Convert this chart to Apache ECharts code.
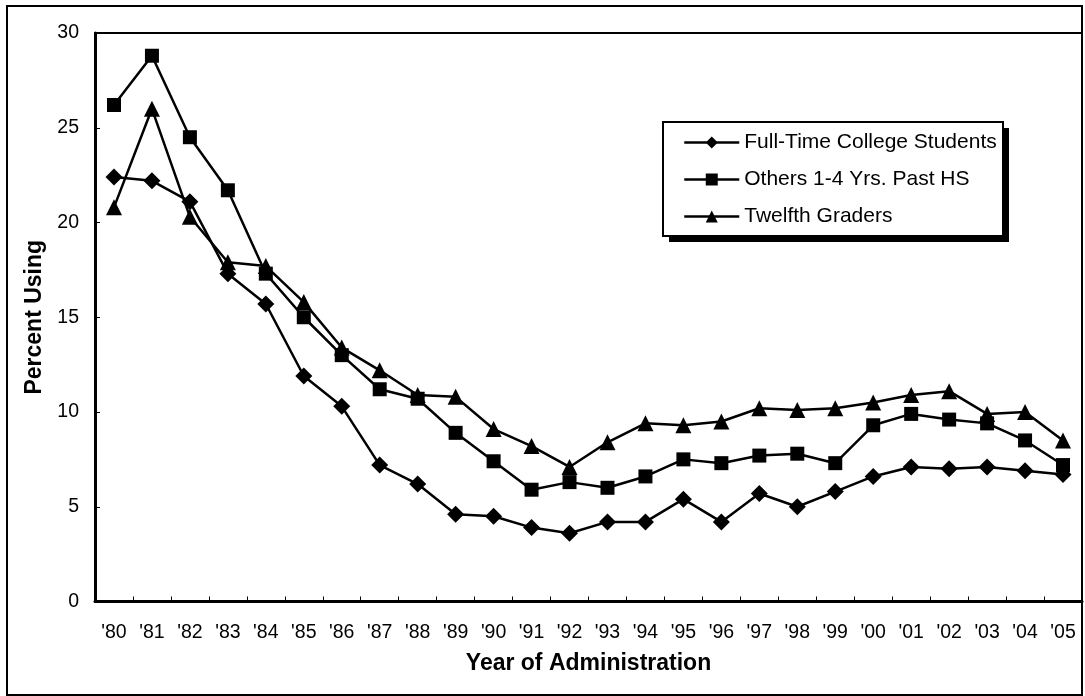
<!DOCTYPE html>
<html>
<head>
<meta charset="utf-8">
<script src="https://cdn.jsdelivr.net/npm/echarts@6/dist/echarts.min.js"></script>
<style>
html,body{margin:0;padding:0;background:#fff;}
#chart{width:1085px;height:696px;}
</style>
</head>
<body>
<div id="chart"></div>
<script>
var years = ["'80","'81","'82","'83","'84","'85","'86","'87","'88","'89","'90","'91","'92","'93","'94","'95","'96","'97","'98","'99","'00","'01","'02","'03","'04","'05"];
var collegeStudents = [22.4,22.2,21.1,17.3,15.7,11.9,10.3,7.2,6.2,4.6,4.5,3.9,3.6,4.2,4.2,5.4,4.2,5.7,5.0,5.8,6.6,7.1,7.0,7.1,6.9,6.7];
var othersPastHS = [26.2,28.8,24.5,21.7,17.3,15.0,13.0,11.2,10.7,8.9,7.4,5.9,6.3,6.0,6.6,7.5,7.3,7.7,7.8,7.3,9.3,9.9,9.6,9.4,8.5,7.2];
var twelfthGraders = [20.8,26.0,20.3,17.9,17.7,15.8,13.4,12.2,10.9,10.8,9.1,8.2,7.1,8.4,9.4,9.3,9.5,10.2,10.1,10.2,10.5,10.9,11.1,9.9,10.0,8.5];
var yTicks = [0,5,10,15,20,25,30];

var FONT = '"Liberation Sans", Arial, Helvetica, sans-serif';
var chart = echarts.init(document.getElementById('chart'));

function mkSeries(name, data, symbol, size) {
  return {
    name: name,
    type: 'line',
    data: data,
    symbol: symbol,
    symbolSize: size,
    showSymbol: true,
    lineStyle: {color: '#000', width: 2.5},
    itemStyle: {color: '#000', borderColor: '#000', borderWidth: 0},
    emphasis: {disabled: true},
    z: 3
  };
}

chart.setOption({
  animation: false,
  backgroundColor: '#fff',
  textStyle: {fontFamily: FONT, color: '#000'},
  grid: {
    left: 95, right: 3, top: 33, bottom: 94.5,
    show: true, borderColor: '#000', borderWidth: 2, backgroundColor: 'transparent'
  },
  legend: {
    orient: 'vertical',
    left: 663, top: 122,
    padding: [10, 12, 12, 20],
    itemWidth: 55, itemHeight: 15, itemGap: 16,
    backgroundColor: 'transparent',
    borderWidth: 0,
    z: 10,
    lineStyle: {width: 2.5, color: '#000'},
    textStyle: {fontFamily: FONT, fontSize: 21, color: '#000', lineHeight: 20},
    data: ['Full-Time College Students', 'Others 1-4 Yrs. Past HS', 'Twelfth Graders']
  },
  xAxis: {
    type: 'category',
    data: years,
    boundaryGap: true,
    name: 'Year of Administration',
    nameLocation: 'middle',
    nameGap: 51,
    nameTextStyle: {fontFamily: FONT, fontSize: 23, fontWeight: 'bold', color: '#000'},
    axisLine: {lineStyle: {color: '#000', width: 3}},
    axisTick: {show: true, inside: true, length: 5, interval: 0, lineStyle: {color: '#000', width: 1}},
    axisLabel: {interval: 0, margin: 21, fontFamily: FONT, fontSize: 19.5, color: '#000'},
    splitLine: {show: false}
  },
  yAxis: {
    type: 'value',
    min: 0, max: 30, interval: 5,
    name: 'Percent Using',
    nameLocation: 'middle',
    nameGap: 40,
    nameTextStyle: {fontFamily: FONT, fontSize: 23, fontWeight: 'bold', color: '#000'},
    axisLine: {show: true, lineStyle: {color: '#000', width: 3}},
    axisTick: {show: true, inside: true, length: 5, lineStyle: {color: '#000', width: 1}},
    axisLabel: {margin: 16, fontFamily: FONT, fontSize: 19.5, color: '#000',
      formatter: function (v) { return yTicks.indexOf(v) >= 0 ? String(v) : ''; }},
    splitLine: {show: false}
  },
  graphic: [{
    type: 'rect',
    shape: {x: 7, y: 6, width: 1075, height: 689},
    style: {fill: 'none', stroke: '#000', lineWidth: 2},
    silent: true, z: 100
  }, {
    type: 'rect',
    shape: {x: 669, y: 128, width: 340, height: 114},
    style: {fill: '#000', stroke: 'none'},
    silent: true, z: 8
  }, {
    type: 'rect',
    shape: {x: 663, y: 122, width: 340, height: 114},
    style: {fill: '#fff', stroke: '#000', lineWidth: 2},
    silent: true, z: 9
  }],
  series: [
    mkSeries('Full-Time College Students', collegeStudents, 'diamond', 17),
    mkSeries('Others 1-4 Yrs. Past HS', othersPastHS, 'rect', 14),
    mkSeries('Twelfth Graders', twelfthGraders, 'triangle', 16)
  ]
});
</script>
</body>
</html>
